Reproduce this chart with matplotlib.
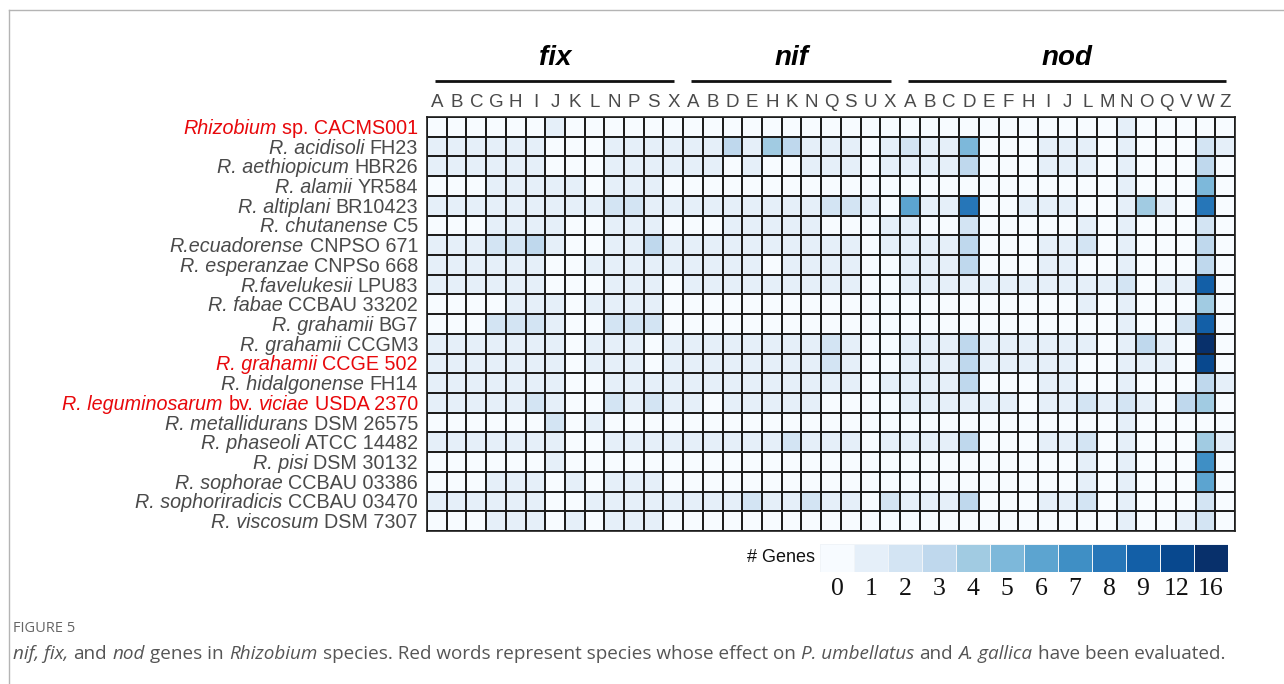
import matplotlib
matplotlib.use("Agg")
import matplotlib.pyplot as plt
import numpy as np
from matplotlib.colors import ListedColormap, BoundaryNorm
from matplotlib.lines import Line2D
from matplotlib.transforms import IdentityTransform

W, H = 1284, 684

fix_genes = list("ABCGHIJKLNPSX")
nif_genes = list("ABDEHKNQSUX")
nod_genes = list("ABCDEFHIJLMNOQVWZ")

# each label is a list of (text, italic) pieces, joined by a space
species = [
    [("Rhizobium", True), ("sp. CACMS001", False)],
    [("R. acidisoli", True), ("FH23", False)],
    [("R. aethiopicum", True), ("HBR26", False)],
    [("R. alamii", True), ("YR584", False)],
    [("R. altiplani", True), ("BR10423", False)],
    [("R. chutanense", True), ("C5", False)],
    [("R.ecuadorense", True), ("CNPSO 671", False)],
    [("R. esperanzae", True), ("CNPSo 668", False)],
    [("R.favelukesii", True), ("LPU83", False)],
    [("R. fabae", True), ("CCBAU 33202", False)],
    [("R. grahamii", True), ("BG7", False)],
    [("R. grahamii", True), ("CCGM3", False)],
    [("R. grahamii", True), ("CCGE 502", False)],
    [("R. hidalgonense", True), ("FH14", False)],
    [("R. leguminosarum", True), ("bv.", False), ("viciae", True), ("USDA 2370", False)],
    [("R. metallidurans", True), ("DSM 26575", False)],
    [("R. phaseoli", True), ("ATCC 14482", False)],
    [("R. pisi", True), ("DSM 30132", False)],
    [("R. sophorae", True), ("CCBAU 03386", False)],
    [("R. sophoriradicis", True), ("CCBAU 03470", False)],
    [("R. viscosum", True), ("DSM 7307", False)],
]
evaluated = [0, 12, 14]

fix_counts = np.array([
    [0, 0, 0, 0, 0, 0, 1, 0, 0, 0, 0, 0, 0],
    [1, 1, 1, 1, 1, 1, 0, 0, 0, 1, 1, 1, 1],
    [1, 1, 1, 1, 1, 1, 0, 0, 0, 1, 1, 1, 1],
    [0, 0, 0, 1, 1, 1, 1, 1, 0, 1, 1, 1, 0],
    [1, 1, 1, 1, 1, 1, 1, 1, 1, 2, 2, 1, 1],
    [0, 0, 0, 1, 1, 1, 1, 0, 0, 1, 1, 1, 0],
    [1, 1, 1, 2, 2, 3, 1, 0, 0, 1, 1, 3, 1],
    [1, 1, 1, 1, 1, 1, 0, 0, 1, 1, 1, 1, 1],
    [1, 1, 1, 1, 1, 1, 0, 0, 0, 1, 1, 1, 0],
    [0, 0, 0, 0, 1, 1, 1, 0, 1, 1, 1, 1, 0],
    [0, 0, 0, 2, 2, 2, 1, 0, 0, 2, 2, 2, 0],
    [1, 1, 1, 1, 1, 1, 1, 0, 1, 1, 1, 0, 1],
    [1, 1, 1, 1, 1, 1, 1, 0, 1, 1, 1, 0, 1],
    [1, 1, 1, 1, 1, 1, 1, 0, 0, 1, 1, 1, 1],
    [1, 1, 1, 1, 1, 2, 1, 0, 0, 2, 1, 2, 1],
    [0, 0, 0, 0, 0, 0, 2, 0, 1, 0, 0, 0, 0],
    [1, 1, 1, 1, 1, 1, 1, 0, 0, 1, 1, 1, 1],
    [0, 0, 0, 0, 0, 0, 1, 0, 0, 0, 0, 0, 0],
    [0, 0, 0, 1, 1, 1, 0, 1, 0, 1, 1, 1, 0],
    [1, 1, 1, 1, 1, 1, 0, 0, 1, 1, 1, 1, 1],
    [0, 0, 0, 1, 1, 1, 0, 1, 0, 1, 1, 1, 0],
])

nif_counts = np.array([
    [0, 0, 0, 0, 0, 0, 0, 0, 0, 0, 0],
    [1, 1, 3, 1, 4, 3, 1, 1, 1, 0, 1],
    [1, 1, 0, 1, 0, 0, 1, 1, 1, 0, 1],
    [0, 0, 0, 0, 0, 0, 0, 0, 0, 0, 0],
    [1, 1, 1, 1, 1, 1, 1, 2, 2, 1, 0],
    [0, 0, 1, 1, 1, 1, 1, 0, 0, 0, 1],
    [1, 1, 1, 1, 1, 1, 1, 1, 1, 0, 1],
    [1, 1, 1, 1, 0, 1, 1, 1, 1, 0, 0],
    [1, 1, 1, 1, 1, 1, 1, 1, 1, 0, 0],
    [0, 0, 0, 0, 0, 0, 0, 0, 0, 0, 0],
    [0, 0, 0, 0, 0, 0, 0, 0, 0, 0, 0],
    [1, 1, 1, 1, 1, 1, 1, 2, 1, 0, 0],
    [1, 1, 1, 1, 1, 1, 1, 2, 1, 0, 0],
    [1, 1, 1, 1, 1, 1, 1, 1, 1, 0, 1],
    [1, 0, 1, 1, 1, 1, 1, 0, 0, 0, 0],
    [0, 0, 0, 0, 0, 0, 0, 0, 0, 0, 0],
    [1, 1, 1, 1, 1, 2, 1, 1, 1, 0, 1],
    [0, 0, 0, 0, 0, 0, 0, 0, 0, 0, 0],
    [0, 0, 0, 0, 0, 0, 0, 0, 0, 0, 0],
    [1, 1, 1, 2, 1, 1, 2, 1, 1, 0, 2],
    [0, 0, 0, 0, 0, 0, 0, 0, 0, 0, 0],
])

nod_counts = np.array([
    [0, 0, 0, 0, 0, 0, 0, 0, 0, 0, 0, 1, 0, 0, 0, 0, 0],
    [2, 1, 1, 5, 0, 0, 0, 1, 1, 1, 0, 1, 0, 0, 0, 2, 1],
    [1, 1, 1, 3, 0, 0, 0, 1, 1, 1, 0, 1, 0, 0, 0, 3, 0],
    [0, 0, 0, 0, 0, 0, 0, 0, 0, 0, 0, 1, 0, 0, 0, 5, 0],
    [6, 1, 1, 8, 0, 0, 1, 1, 1, 0, 0, 1, 4, 1, 0, 8, 0],
    [1, 0, 0, 2, 0, 0, 0, 0, 0, 1, 0, 1, 0, 0, 0, 2, 0],
    [1, 1, 1, 3, 0, 0, 0, 1, 1, 2, 0, 1, 0, 0, 0, 3, 0],
    [1, 1, 1, 3, 0, 0, 0, 1, 1, 0, 0, 1, 0, 0, 0, 3, 0],
    [1, 1, 1, 1, 1, 1, 1, 1, 1, 1, 1, 2, 0, 1, 1, 9, 0],
    [0, 0, 0, 0, 0, 0, 0, 0, 0, 1, 0, 1, 0, 0, 0, 4, 0],
    [0, 0, 0, 0, 0, 0, 0, 0, 0, 0, 0, 1, 0, 0, 2, 9, 0],
    [1, 1, 1, 3, 1, 1, 1, 1, 1, 1, 0, 1, 3, 1, 0, 16, 0],
    [1, 1, 1, 3, 1, 1, 1, 1, 1, 0, 0, 1, 1, 1, 0, 12, 0],
    [1, 1, 1, 3, 0, 0, 0, 1, 1, 0, 0, 1, 0, 0, 0, 3, 1],
    [1, 1, 1, 1, 1, 1, 0, 1, 1, 2, 1, 2, 1, 0, 3, 4, 0],
    [0, 0, 0, 0, 0, 0, 0, 0, 0, 0, 0, 1, 0, 0, 0, 0, 0],
    [1, 1, 1, 3, 0, 0, 0, 1, 1, 2, 0, 1, 0, 0, 0, 4, 1],
    [0, 0, 0, 0, 0, 0, 0, 0, 0, 1, 0, 1, 0, 0, 0, 7, 0],
    [0, 0, 0, 0, 0, 0, 0, 0, 0, 1, 0, 1, 0, 0, 0, 6, 0],
    [1, 1, 1, 3, 0, 0, 0, 1, 1, 2, 0, 1, 0, 0, 0, 2, 0],
    [0, 0, 0, 0, 0, 0, 0, 0, 0, 0, 0, 1, 0, 0, 1, 2, 0],
])

count_levels = [0, 1, 2, 3, 4, 5, 6, 7, 8, 9, 12, 16]

caption_title = "FIGURE 5"
caption_pieces = [
    ("nif, fix,", True), ("and", False), ("nod", True), ("genes in", False),
    ("Rhizobium", True),
    ("species. Red words represent species whose effect on", False),
    ("P. umbellatus", True), ("and", False), ("A. gallica", True),
    ("have been evaluated.", False),
]

SANS = "Liberation Sans"
LABEL_GREY = "#4a4a4a"
RED = "#e8080b"

genes = fix_genes + nif_genes + nod_genes
counts = np.hstack([fix_counts, nif_counts, nod_counts])
n_rows, n_cols = counts.shape

colors = plt.cm.Blues(np.linspace(0.0, 1.0, len(count_levels)))
cmap = ListedColormap(colors)
bounds = [-0.5] + [(a + b) / 2 for a, b in zip(count_levels[:-1], count_levels[1:])] + [count_levels[-1] + 1]
norm = BoundaryNorm(bounds, cmap.N)

fig = plt.figure(figsize=(W / 100, H / 100), dpi=100)
renderer = fig.canvas.get_renderer()

ax = fig.add_axes([427 / W, 1 - 531 / H, 808 / W, 414 / H])
ax.pcolormesh(counts, cmap=cmap, norm=norm, edgecolors="#1e1e1e", linewidth=1.1)
ax.set_xlim(0, n_cols)
ax.set_ylim(n_rows, 0)
ax.set_xticks(np.arange(n_cols) + 0.5, labels=genes)
ax.set_yticks([])
ax.tick_params(axis="x", top=True, labeltop=True, bottom=False, labelbottom=False,
               length=0, pad=4, labelsize=13.5, labelcolor=LABEL_GREY)
for lab in ax.get_xticklabels():
    lab.set_fontfamily(SANS)
for sp in ax.spines.values():
    sp.set_color("#1e1e1e")
    sp.set_linewidth(1.2)

# gene family headers with rules
xt = ax.get_xaxis_transform()
start = 0
for name, group in [("fix", fix_genes), ("nif", nif_genes), ("nod", nod_genes)]:
    end = start + len(group)
    ax.plot([start + 0.4, end - 0.45], [1.087, 1.087], transform=xt, color="#111111",
            linewidth=2.0, clip_on=False, solid_capstyle="butt")
    ax.text((start + end) / 2, 1.143, name, transform=xt, ha="center", va="center",
            fontsize=20, fontweight="bold", fontstyle="italic", family=SANS, color="#000000")
    start = end


def draw_pieces(pieces, x, y, align, size, color, family):
    gap = 0.28 * size * 100 / 72
    order = pieces[::-1] if align == "right" else pieces
    for text, italic in order:
        t = fig.text(x, y, text, transform=IdentityTransform(), ha=align, va="baseline",
                     fontsize=size, fontstyle="italic" if italic else "normal",
                     family=family, color=color)
        ext = t.get_window_extent(renderer)
        x = ext.x0 - gap if align == "right" else ext.x1 + gap


# species labels, right aligned next to the grid
for i, pieces in enumerate(species):
    xd, yd = ax.transData.transform((0, i + 0.5))
    color = RED if i in evaluated else LABEL_GREY
    draw_pieces(pieces, xd - 9, yd - 7, "right", 14.2, color, SANS)

# colour key
cax = fig.add_axes([820 / W, 1 - 572 / H, 408 / W, 28 / H])
cax.pcolormesh(np.array([count_levels]), cmap=cmap, norm=norm, edgecolors="#f0f4f8", linewidth=0.4)
cax.set_xlim(0, len(count_levels))
cax.set_ylim(0, 1)
cax.set_xticks(np.arange(len(count_levels)) + 0.5, labels=[str(v) for v in count_levels])
cax.set_yticks([])
cax.tick_params(axis="x", length=0, pad=4, labelsize=18.5, labelcolor="#111111")
for lab in cax.get_xticklabels():
    lab.set_fontfamily("Liberation Serif")
for sp in cax.spines.values():
    sp.set_visible(False)
fig.text(815 / W, 1 - 557 / H, "# Genes", ha="right", va="center", fontsize=13,
         family=SANS, color="#111111")

# caption
fig.text(13 / W, 1 - 628 / H, caption_title, ha="left", va="center", fontsize=10.5,
         family="Open Sans", color="#666666")
draw_pieces(caption_pieces, 13, H - 659, "left", 13.6, "#555555", "Open Sans")

# page frame
fig.add_artist(Line2D([9 / W, 1], [1 - 10 / H, 1 - 10 / H], transform=fig.transFigure,
                      color="#b4b4b4", linewidth=1.0))
fig.add_artist(Line2D([9 / W, 9 / W], [0, 1 - 10 / H], transform=fig.transFigure,
                      color="#b4b4b4", linewidth=1.0))

fig.savefig("out.png", dpi=100)
plt.close(fig)
